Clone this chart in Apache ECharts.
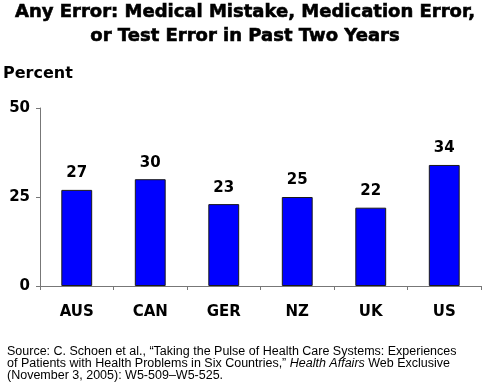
<!DOCTYPE html>
<html><head><meta charset="utf-8">
<script src="https://cdn.jsdelivr.net/npm/echarts@6/dist/echarts.min.js"></script>
<style>html,body{margin:0;padding:0;background:#fff}#c{width:490px;height:386px}</style>
</head><body><div id="c"></div>
<script>
var categories = ['AUS', 'CAN', 'GER', 'NZ', 'UK', 'US'];
var values = [27, 30, 23, 25, 22, 34];
var yTicks = [0, 25, 50];
var titleText = 'Any Error: Medical Mistake, Medication Error,\nor Test Error in Past Two Years';
var yAxisTitle = 'Percent';

var FB = '"DejaVu Sans", Arial, sans-serif';
var F = 'Arial, "Liberation Sans", sans-serif';
var chart = echarts.init(document.getElementById('c'), null, {renderer: 'canvas'});
chart.setOption({
  animation: false,
  title: {
    text: titleText, left: 'center', top: 0, padding: 0,
    textStyle: {fontFamily: FB, fontWeight: 'bold', fontSize: 18, lineHeight: 24, color: '#000',
      textBorderColor: '#000', textBorderWidth: 0.6}
  },
  grid: {left: 40, right: 9, top: 108, bottom: 100, containLabel: false},
  xAxis: {
    type: 'category', data: categories,
    axisLine: {lineStyle: {color: '#777', width: 1}},
    axisTick: {show: true, alignWithLabel: false, length: 4, inside: false, lineStyle: {color: '#777'}},
    axisLabel: {fontFamily: FB, fontWeight: 'bold', fontSize: 15, color: '#000', margin: 19}
  },
  yAxis: {
    type: 'value', min: yTicks[0], max: yTicks[yTicks.length - 1], interval: 25,
    splitLine: {show: false},
    axisLine: {show: true, lineStyle: {color: '#777', width: 1}},
    axisTick: {show: true, length: 4, lineStyle: {color: '#777'}},
    axisLabel: {fontFamily: FB, fontWeight: 'bold', fontSize: 15, color: '#000', margin: 10}
  },
  graphic: [
    {type: 'text', left: 3, top: 66, style: {text: yAxisTitle, font: 'bold 16px ' + FB, fill: '#000'}},
    {type: 'text', left: 7, top: 345, style: {
      text: 'Source: C. Schoen et al., \u201cTaking the Pulse of Health Care Systems: Experiences\nof Patients with Health Problems in Six Countries,\u201d {i|Health Affairs} Web Exclusive\n(November 3, 2005): W5-509\u2013W5-525.',
      font: '12.5px ' + F, fill: '#000', lineHeight: 12,
      rich: {i: {fontStyle: 'italic', fontFamily: F, fontSize: 12.5, lineHeight: 12, fill: '#000'}}
    }}
  ],
  series: [{
    type: 'bar', data: values, barWidth: '42%',
    itemStyle: {color: '#0000FF', borderColor: '#1a1a1a', borderWidth: 1},
    label: {show: true, position: 'top', distance: 9, fontFamily: FB, fontWeight: 'bold', fontSize: 15, color: '#000'}
  }]
});
</script></body></html>
